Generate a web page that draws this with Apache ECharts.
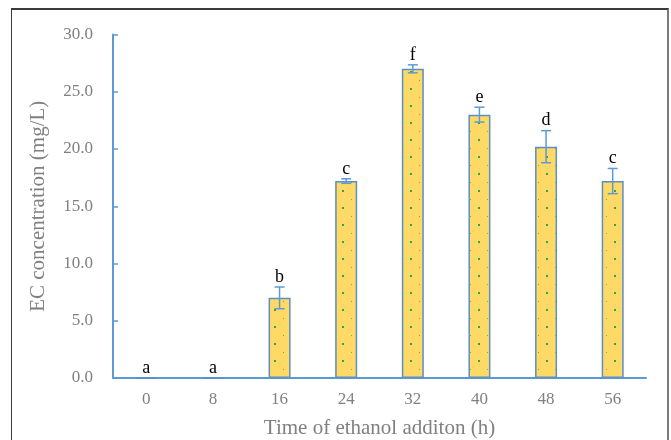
<!DOCTYPE html>
<html><head><meta charset="utf-8">
<script src="https://cdn.jsdelivr.net/npm/echarts@6/dist/echarts.min.js"></script>
<style>html,body{margin:0;padding:0;background:#fff;overflow:hidden}#c{width:671px;height:440px}
#frame{position:absolute;left:11px;top:8px;width:658px;height:450px;border:1px solid #3a3a3a;border-top-width:2px;border-left-width:1.5px;border-right:2px solid #7a7a7a;box-sizing:border-box;pointer-events:none}</style>
</head><body><div id="c"></div><div id="frame"></div>
<script>
const categories = ['0','8','16','24','32','40','48','56'];
const values = [0, 0, 7.0, 17.2, 27.0, 23.0, 20.2, 17.2];
const errors = [0, 0, 0.95, 0.2, 0.35, 0.65, 1.4, 1.1];
const letters = ['a','a','b','c','f','e','d','c'];
const yTicks = [0, 5, 10, 15, 20, 25, 30];

// dotted pattern fill
const pc = document.createElement('canvas');
pc.width = 17; pc.height = 17;
const g = pc.getContext('2d');
g.fillStyle = '#FFD966'; g.fillRect(0,0,17,17);
g.fillStyle = '#2ca64a';
g.fillRect(2,3,2,2);
g.fillStyle = '#6bb04a';
g.fillRect(11,12,1,1);

const chart = echarts.init(document.getElementById('c'));
const serif = '"Liberation Serif","DejaVu Serif",serif';
chart.setOption({
  animation:false,
  grid:{left:113,right:25,top:34.5,bottom:62,containLabel:false,outerBoundsMode:'none'},
  xAxis:{type:'category',data:categories,
    axisLine:{lineStyle:{color:'#5B9BD5',width:2}},
    axisTick:{inside:true,length:5,lineStyle:{color:'#5B9BD5',width:1.5}},
    axisLabel:{color:'#808080',fontFamily:serif,fontSize:17,margin:13},
    name:'Time of ethanol additon (h)',nameLocation:'middle',nameGap:40,
    nameTextStyle:{color:'#808080',fontFamily:serif,fontSize:21}},
  yAxis:{type:'value',min:0,max:30,interval:5,
    axisLine:{show:true,lineStyle:{color:'#5B9BD5',width:2}},
    axisTick:{show:true,inside:true,length:5,lineStyle:{color:'#5B9BD5',width:1.5}},
    splitLine:{show:false},
    axisLabel:{color:'#808080',fontFamily:serif,fontSize:17,margin:20,formatter:v=>yTicks.includes(v)?v.toFixed(1):''},
    name:'EC concentration (mg/L)',nameLocation:'middle',nameGap:64,
    nameTextStyle:{color:'#808080',fontFamily:serif,fontSize:21}},
  series:[
    {type:'bar',data:values,barWidth:22,
     itemStyle:{color:{image:pc,repeat:'repeat'},borderColor:'#5b8fc6',borderWidth:1.5}},
    {type:'custom',data:values.map((v,i)=>[i,v,errors[i]]),z:5,
     renderItem:function(params,api){
       const i=api.value(0),v=api.value(1),e=api.value(2);
       const top=api.coord([i,v+e]),bot=api.coord([i,v-e]);
       const children=[];
       const st={stroke:'#5B9BD5',lineWidth:1.5};
       if(e>0){
         children.push({type:'line',shape:{x1:top[0],y1:top[1],x2:bot[0],y2:bot[1]},style:st});
         children.push({type:'line',shape:{x1:top[0]-5,y1:top[1],x2:top[0]+5,y2:top[1]},style:st});
         children.push({type:'line',shape:{x1:bot[0]-5,y1:bot[1],x2:bot[0]+5,y2:bot[1]},style:st});
       }
       children.push({type:'text',style:{text:letters[i],x:top[0],y:top[1]-1,align:'center',verticalAlign:'bottom',
         fill:'#000',font:'18px '+serif}});
       return {type:'group',children};
     }}
  ]
});
</script></body></html>
